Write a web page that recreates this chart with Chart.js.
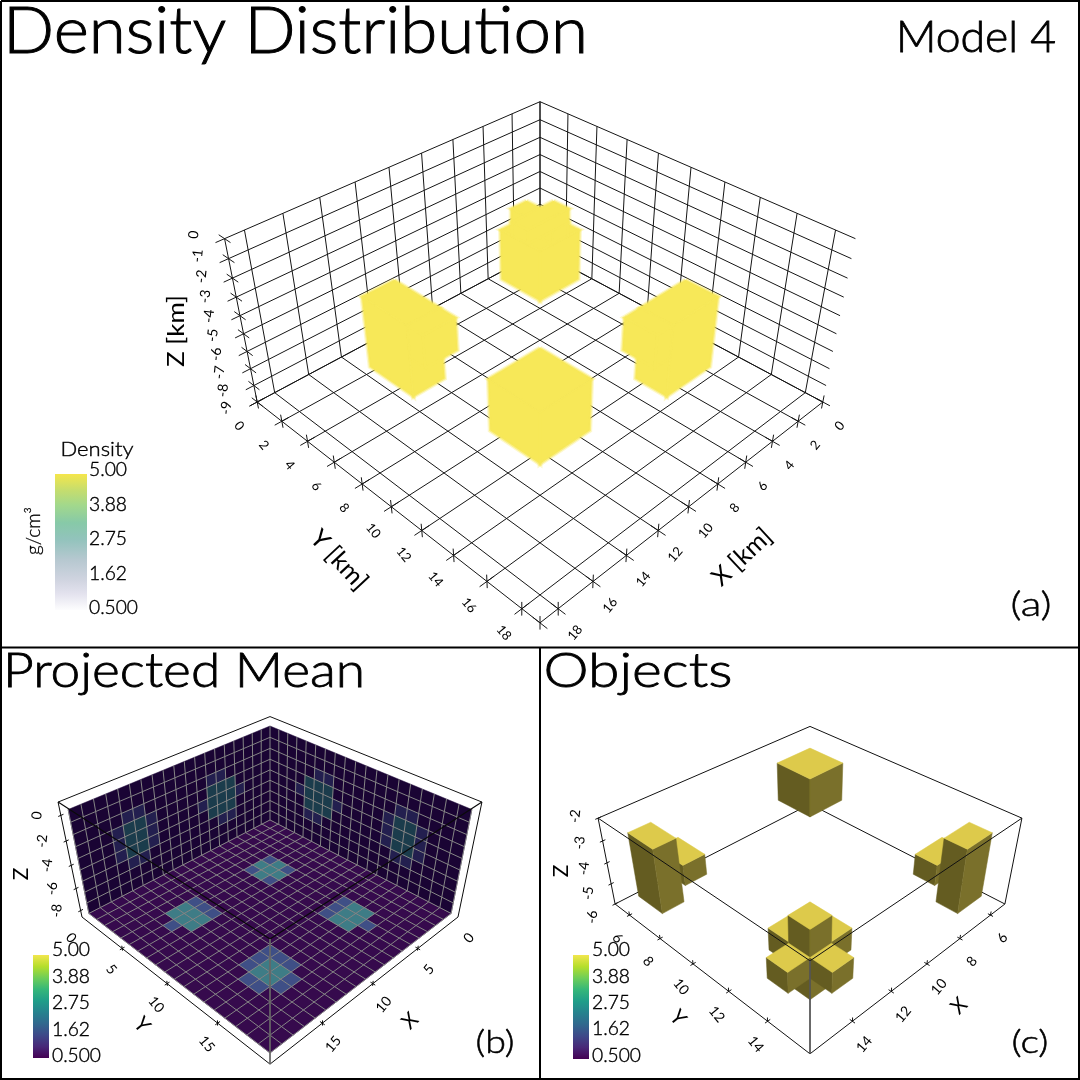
<!DOCTYPE html>
<html>
<head>
<meta charset="utf-8">
<script src="https://cdn.jsdelivr.net/npm/chart.js@4"></script>
<style>
body { margin: 0; background: #fff; }
canvas { display: block; }
</style>
</head>
<body>
<canvas id="fig" width="1080" height="1080"></canvas>
<script>
// tick values
const xGridA = [0, 2, 4, 6, 8, 10, 12, 14, 16, 18];
const yGridA = [0, 2, 4, 6, 8, 10, 12, 14, 16, 18];
const zGridA = [0, -1, -2, -3, -4, -5, -6, -7, -8, -9];
const ticksB = [5, 10, 15];
const tickLabelsB = [0, 5, 10, 15];
const zTicksB = [0, -2, -4, -6, -8];
const ticksC = [6, 8, 10, 12, 14];
const zTicksC = [-2, -3, -4, -5, -6];
const barLabels = ['5.00', '3.88', '2.75', '1.62', '0.500'];

// density blobs of panel a: x0, x1, y0, y1, z0, z1
const blobBack = [[5.2, 7.8, 5.2, 7.8, -4.83, -2.1], [6, 7, 5.1, 7.8, -2.1, -1.35], [5.1, 7.8, 6, 7, -2.1, -1.35]];
const blobFront = [[12.55, 15.45, 12.55, 15.45, -5.29, -2.59]];
const blobLeft = [[14, 15.8, 5, 8, -5.9, -2.1], [14, 15.8, 8, 9, -3.8, -2.1]];
const blobRight = [[5, 8, 14, 15.8, -5.9, -2.1], [8, 9, 14, 15.8, -3.8, -2.1]];

// projected mean cells of panel b (cell index on the grid)
const floorTealX = [13, 13, 13, 14, 14, 14, 4, 5, 6, 4, 5, 6, 5, 4, 5, 6, 5, 13, 13, 14, 14];
const floorTealY = [4, 5, 6, 4, 5, 6, 13, 13, 13, 14, 14, 14, 4, 5, 5, 5, 6, 13, 14, 13, 14];
const floorBlueX = [12, 12, 12, 15, 4, 5, 6, 5, 4, 6, 4, 6, 12, 12, 13, 12, 14, 13, 15, 14, 15];
const floorBlueY = [4, 5, 6, 5, 12, 12, 12, 15, 4, 4, 6, 6, 12, 13, 12, 14, 12, 15, 13, 15, 14];
const wallTealCol = [13, 14, 13, 14, 13, 14, 4, 5, 6, 4, 5, 6, 4, 5, 6];
const wallTealRow = [3, 3, 4, 4, 5, 5, 3, 3, 3, 4, 4, 4, 5, 5, 5];
const wallBlueCol = [13, 14, 13, 14, 12, 15, 12, 15, 12, 15, 5, 6, 4, 5, 3, 7];
const wallBlueRow = [2, 2, 6, 6, 3, 3, 4, 4, 5, 5, 2, 2, 6, 6, 4, 4];

// objects of panel c: x0, x1, y0, y1, z0, z1
const cubeBack = [5.5, 7.5, 5.5, 7.5, -4.55, -2.71];
const crossColumn = [13.5, 14.5, 13.5, 14.5, -5.7, -2.6];
const crossArmBackA = [12.5, 13.5, 13.5, 14.5, -4.7, -3.72];
const crossArmBackB = [13.5, 14.5, 12.5, 13.5, -4.7, -3.72];
const crossArmFrontA = [14.5, 15.5, 13.5, 14.5, -4.7, -3.78];
const crossArmFrontB = [13.5, 14.5, 14.5, 15.5, -4.7, -3.78];
const leftColumn = [14.8, 15.8, 6.6, 8.1, -4.85, -2];
const leftArm = [13.85, 14.85, 6.8, 8.4, -3.9, -3];
const rightColumn = [6.6, 8.1, 14.8, 15.8, -4.85, -2];
const rightArm = [6.8, 8.4, 13.85, 14.85, -3.9, -3];

const FONT = 'Lato';
const datasets = [];
const labels = [];

const canvas = document.getElementById('fig');
const barCtx = canvas.getContext('2d');

function camera(o) {
    return (x, y, z) => {
        const u = x - o.mid, v = y - o.mid, h = z - o.floor;
        const p = (v - u) / Math.SQRT2, q = (u + v) / Math.SQRT2;
        const D = o.d - q * o.c - h * o.s;
        return { x: o.cx + o.f * p / D, y: o.cy - o.f * (h * o.c - q * o.s) / D };
    };
}
const camA = camera({ cx: 540, cy: 402, f: 1162, d: 55.2, s: 0.634, c: 0.773, mid: 9.5, floor: -9 });
const camB = camera({ cx: 270, cy: 917, f: 717.6, d: 52.9, s: 0.622, c: 0.783, mid: 9.8, floor: -8.6 });
const camC = camera({ cx: 810, cy: 904, f: 768, d: 30.65, s: 0.615, c: 0.788, mid: 10.5, floor: -6 });

function line(pts, color, width) {
    datasets.push({ data: pts, showLine: true, pointRadius: 0, borderColor: color, borderWidth: width || 1, fill: false, tension: 0, clip: false });
}
function poly(pts, color, edge, edgeWidth) {
    datasets.push({
        data: pts.concat([pts[0]]), showLine: true, pointRadius: 0, fill: 'shape', backgroundColor: color,
        borderColor: edge || color, borderWidth: edgeWidth === undefined ? 0.5 : edgeWidth, tension: 0, clip: false
    });
}
function seg(cam, a, b, color, width) {
    line([cam(a[0], a[1], a[2]), cam(b[0], b[1], b[2])], color, width);
}
function box(cam, b, top, left, right, edge, edgeWidth) {
    const [x0, x1, y0, y1, z0, z1] = b;
    poly([cam(x1, y0, z1), cam(x1, y1, z1), cam(x1, y1, z0), cam(x1, y0, z0)], left, edge, edgeWidth);
    poly([cam(x0, y1, z1), cam(x1, y1, z1), cam(x1, y1, z0), cam(x0, y1, z0)], right, edge, edgeWidth);
    poly([cam(x0, y0, z1), cam(x1, y0, z1), cam(x1, y1, z1), cam(x0, y1, z1)], top, edge, edgeWidth);
}
function text(t, x, y, size, opts) {
    labels.push(Object.assign({ t, x, y, size, rot: 0, weight: 400 }, opts));
}
function barText(x, y0, step) {
    barLabels.forEach((t, i) => text(t, x, y0 + i * step, 20, { width: i === 4 ? 49 : 38, weight: 300, heavy: 0.4, left: true }));
}

// --- frame ---
function frame() {
    const k = '#000';
    line([{ x: 1, y: 1 }, { x: 1079, y: 1 }, { x: 1079, y: 1079 }, { x: 1, y: 1079 }, { x: 1, y: 1 }], k, 2);
    line([{ x: 0, y: 647.5 }, { x: 1080, y: 647.5 }], k, 2);
    line([{ x: 540, y: 647 }, { x: 540, y: 1080 }], k, 2);
}

// --- panel a ---
function panelA() {
    const c = '#151515', zMin = -9, end = 19;
    xGridA.forEach(x => {
        seg(camA, [x, 0, zMin], [x, end, zMin], c);
        seg(camA, [x, 0, zMin], [x, 0, 0], c);
    });
    yGridA.forEach(y => {
        seg(camA, [0, y, zMin], [end, y, zMin], c);
        seg(camA, [0, y, zMin], [0, y, 0], c);
    });
    zGridA.forEach(z => {
        seg(camA, [0, 0, z], [end, 0, z], c);
        seg(camA, [0, 0, z], [0, end, z], c);
        seg(camA, [end, 0, z], [end + 0.45, 0, z], c);
        seg(camA, [end, -0.45, z], [end, 0.45, z], c);
        const p = camA(end, 0, z);
        text(String(z), p.x - 31, p.y - 4 - z * 1.1, 14, { rot: -84 });
    });
    seg(camA, [end, 0, 0], [end, 0, zMin], c);
    seg(camA, [0, end, zMin], [end, end, zMin], c);
    seg(camA, [end, 0, zMin], [end, end, zMin], c);
    xGridA.concat([end]).forEach(x => {
        seg(camA, [x, end - 0.4, zMin], [x, end + 0.4, zMin], c);
        seg(camA, [x, end, zMin - 0.4], [x, end, zMin + 0.4], c);
    });
    yGridA.forEach(y => {
        seg(camA, [end - 0.4, y, zMin], [end + 0.4, y, zMin], c);
        seg(camA, [end, y, zMin - 0.4], [end, y, zMin + 0.4], c);
    });
    xGridA.forEach(x => {
        const p = camA(x, end, zMin);
        text(String(x), p.x + 17, p.y + 24, 13, { rot: -50 });
    });
    yGridA.forEach(y => {
        const p = camA(end, y, zMin);
        text(String(y), p.x - 18, p.y + 24, 13, { rot: 50 });
    });

    // soft rim first, then the solid bodies
    const y = '#f7e858', rim = 'rgba(247,232,88,0.3)', rim2 = 'rgba(247,232,88,0.6)';
    const blobs = [blobBack, blobLeft, blobRight, blobFront];
    blobs.forEach(b => b.forEach(q => box(camA, q, rim, rim, rim, rim, 5)));
    blobs.forEach(b => b.forEach(q => box(camA, q, y, y, y, rim2, 2.5)));

    text('Density Distribution', 295.5, 32, 66, { width: 585, weight: 300, heavy: 1 });
    text('Model 4', 976, 38, 43, { width: 160, weight: 300, heavy: 0.8 });
    text('(a)', 1031, 605, 33, { width: 41, weight: 300, heavy: 0.5 });
    text('Z [km]', 176, 331, 24, { rot: -90, width: 72 });
    text('Y [km]', 339, 560, 25, { rot: 47, width: 72 });
    text('X [km]', 742, 557, 25, { rot: -43, width: 72 });
    text('Density', 97, 450, 20, { width: 73, weight: 300, heavy: 0.4 });
    text('g/cm\u00B3', 34, 531, 20, { rot: -90, width: 48, weight: 300, heavy: 0.3 });

    const g = barCtx.createLinearGradient(0, 474, 0, 610);
    [[0, '#f5e64b'], [0.12, '#c5dd6e'], [0.23, '#a2d88c'], [0.36, '#87c9a8'], [0.48, '#92c3bc'], [0.63, '#b6c8d0'], [0.78, '#d0d4e0'], [0.88, '#e3e2ee'], [1, '#fdfdfe']]
        .forEach(s => g.addColorStop(s[0], s[1]));
    colorBar(55, 87, 474, 610, g);
    barText(89, 470, 34.5);
}

function colorBar(x0, x1, y0, y1, fillStyle) {
    poly([{ x: x0, y: y0 }, { x: x1, y: y0 }, { x: x1, y: y1 }, { x: x0, y: y1 }], fillStyle, 'rgba(0,0,0,0)', 0);
}
function viridisBar(x0, x1, y0, y1) {
    const g = barCtx.createLinearGradient(0, y0, 0, y1);
    ['#f2e64e', '#b5de2b', '#6ece58', '#35b779', '#1f9e89', '#26828e', '#31688e', '#3e4989', '#482878', '#440154']
        .forEach((c, i) => g.addColorStop(i / 9, c));
    colorBar(x0, x1, y0, y1, g);
}

// --- panel b ---
function panelB() {
    const zF = -8.6, zT = 0.2, n = 19, rowH = (zT - zF) / 9;
    const wallBase = '#1a0434', floorBase = '#360a4d', grid = '#858585';
    const teal = '#3e7c86', blue = '#3f4f86', wallTeal = '#1b3c4c', wallBlue = '#231f4f';
    const rowZ = r => zT - r * rowH;
    const wallCellL = (i, r, col) => poly([camB(i, 0, rowZ(r)), camB(i + 1, 0, rowZ(r)), camB(i + 1, 0, rowZ(r + 1)), camB(i, 0, rowZ(r + 1))], col);
    const wallCellR = (i, r, col) => poly([camB(0, i, rowZ(r)), camB(0, i + 1, rowZ(r)), camB(0, i + 1, rowZ(r + 1)), camB(0, i, rowZ(r + 1))], col);
    const floorCell = (i, j, col) => poly([camB(i, j, zF), camB(i + 1, j, zF), camB(i + 1, j + 1, zF), camB(i, j + 1, zF)], col);

    // back edges of the box behind everything
    line([camB(19.6, 0, 1), camB(0, 0, 1), camB(0, 19.6, 1)], '#111');

    poly([camB(0, 0, zT), camB(n, 0, zT), camB(n, 0, zF), camB(0, 0, zF)], wallBase);
    poly([camB(0, 0, zT), camB(0, n, zT), camB(0, n, zF), camB(0, 0, zF)], wallBase);
    poly([camB(0, 0, zF), camB(n, 0, zF), camB(n, n, zF), camB(0, n, zF)], floorBase);
    wallBlueCol.forEach((c, i) => { wallCellL(c, wallBlueRow[i], wallBlue); wallCellR(c, wallBlueRow[i], wallBlue); });
    wallTealCol.forEach((c, i) => { wallCellL(c, wallTealRow[i], wallTeal); wallCellR(c, wallTealRow[i], wallTeal); });
    floorBlueX.forEach((x, i) => floorCell(x, floorBlueY[i], blue));
    floorTealX.forEach((x, i) => floorCell(x, floorTealY[i], teal));

    for (let i = 1; i <= n; i++) {
        seg(camB, [i, 0, zF], [i, n, zF], grid);
        seg(camB, [0, i, zF], [n, i, zF], grid);
        seg(camB, [i, 0, zF], [i, 0, zT], grid);
        seg(camB, [0, i, zF], [0, i, zT], grid);
    }
    seg(camB, [0, 0, zF], [0, 0, zT], grid);
    for (let r = 1; r <= 9; r++) {
        seg(camB, [0, 0, rowZ(r)], [n, 0, rowZ(r)], grid);
        seg(camB, [0, 0, rowZ(r)], [0, n, rowZ(r)], grid);
    }

    // front edges of the box over the projections
    const L = 19.6, k = '#0a0a0a';
    line([camB(L, 0, 1), camB(L, L, 1), camB(0, L, 1)], k, 1.2);
    line([camB(L, 0, 1), camB(L, 0, zF), camB(L, L, zF), camB(0, L, zF), camB(0, L, 1)], k);
    seg(camB, [L, L, 1], [L, L, zF], '#666');

    ticksB.forEach(t => {
        seg(camB, [t, L - 0.2, zF], [t, L + 0.2, zF], k);
        seg(camB, [t, L, zF - 0.2], [t, L, zF + 0.25], k);
        seg(camB, [L - 0.2, t, zF], [L + 0.2, t, zF], k);
        seg(camB, [L, t, zF - 0.2], [L, t, zF + 0.25], k);
    });
    zTicksB.forEach(t => seg(camB, [L - 0.2, 0, t], [L + 0.2, 0, t], k));

    tickLabelsB.forEach(t => {
        const a = camB(t, L, zF), b = camB(L, t, zF);
        text(String(t), a.x + 11, a.y + 21, 14, { rot: -50 });
        text(String(t), b.x - 11, b.y + 21, 14, { rot: 50 });
    });
    zTicksB.forEach(t => {
        const p = camB(L, 0, t);
        text(String(t), p.x - 24, p.y, 14, { rot: -84 });
    });
    text('X', 410, 1021, 21, { rot: -45 });
    text('Y', 142, 1025, 21, { rot: 50 });
    text('Z', 21, 874, 21, { rot: -90 });
    text('Projected Mean', 184, 672, 47, { width: 362, weight: 300, heavy: 0.8 });
    text('(b)', 495, 1043, 31, { width: 39, weight: 300, heavy: 0.5 });

    viridisBar(33, 49, 955, 1058);
    barText(52, 950, 26.5);
}

// --- panel c ---
function panelC() {
    const lo = 5, hi = 16, zB = -6, zT = -2, k = '#111';
    line([camC(hi, lo, zT), camC(lo, lo, zT), camC(lo, hi, zT)], k);
    line([camC(hi, lo, zB), camC(lo, lo, zB), camC(lo, hi, zB)], k);
    line([camC(hi, lo, zT), camC(hi, lo, zB)], k);
    line([camC(lo, hi, zT), camC(lo, hi, zB)], k);

    const top = '#ddca4b', left = '#645c21', right = '#7a702b';
    [cubeBack, leftArm, leftColumn, rightArm, rightColumn,
        crossArmBackA, crossArmBackB, crossColumn, crossArmFrontA, crossArmFrontB]
        .forEach(b => box(camC, b, top, left, right));

    line([camC(hi, lo, zT), camC(hi, hi, zT), camC(lo, hi, zT)], k);
    line([camC(hi, lo, zB), camC(hi, hi, zB), camC(lo, hi, zB)], k);
    seg(camC, [hi, hi, zT], [hi, hi, zB], '#555');

    ticksC.forEach(t => {
        seg(camC, [t, hi - 0.12, zB], [t, hi + 0.12, zB], k);
        seg(camC, [t, hi, zB], [t, hi, zB + 0.18], k);
        seg(camC, [hi - 0.12, t, zB], [hi + 0.12, t, zB], k);
        seg(camC, [hi, t, zB], [hi, t, zB + 0.18], k);
        const a = camC(t, hi, zB), b = camC(hi, t, zB);
        text(String(t), a.x + 12, a.y + 23, 14, { rot: -50 });
        text(String(t), b.x - 12, b.y + 23, 14, { rot: 50 });
    });
    zTicksC.forEach(t => {
        seg(camC, [hi - 0.12, lo, t], [hi + 0.12, lo, t], k);
        const p = camC(hi, lo, t);
        text(String(t), p.x - 23, p.y - 2 - (t + 2) * 3.75, 14, { rot: -84 });
    });
    text('X', 959, 1006, 21, { rot: -45 });
    text('Y', 678, 1018, 21, { rot: 50 });
    text('Z', 561, 871, 21, { rot: -90 });
    text('Objects', 638, 672, 47, { width: 189, weight: 300, heavy: 0.8 });
    text('(c)', 1030, 1043, 31, { width: 37, weight: 300, heavy: 0.5 });

    viridisBar(573, 589, 955, 1059);
    barText(592, 950, 26.3);
}

const labelPlugin = {
    id: 'labels',
    afterDatasetsDraw(chart) {
        const ctx = chart.ctx, sx = chart.scales.x, sy = chart.scales.y;
        labels.forEach(l => {
            ctx.save();
            ctx.font = l.weight + ' ' + l.size + 'px ' + FONT + ', sans-serif';
            ctx.fillStyle = '#000';
            ctx.strokeStyle = '#000';
            ctx.textBaseline = 'middle';
            ctx.textAlign = l.left ? 'left' : 'center';
            const w = ctx.measureText(l.t).width;
            ctx.translate(sx.getPixelForValue(l.x), sy.getPixelForValue(l.y));
            ctx.rotate(l.rot * Math.PI / 180);
            ctx.scale(l.width ? l.width / w : 1, 1);
            ctx.fillText(l.t, 0, 0);
            if (l.heavy) {
                ctx.lineWidth = l.heavy;
                ctx.strokeText(l.t, 0, 0);
            }
            ctx.restore();
        });
    }
};

panelA();
panelB();
panelC();
frame();

// chart.js paints the first dataset last
datasets.reverse();

new Chart(canvas, {
    type: 'scatter',
    data: { datasets },
    options: {
        responsive: false,
        animation: false,
        layout: { padding: 0 },
        events: [],
        plugins: { legend: { display: false }, tooltip: { enabled: false }, title: { display: false } },
        scales: {
            x: { type: 'linear', min: 0, max: 1080, display: false },
            y: { type: 'linear', min: 0, max: 1080, reverse: true, display: false }
        }
    },
    plugins: [labelPlugin]
});
</script>
</body>
</html>
